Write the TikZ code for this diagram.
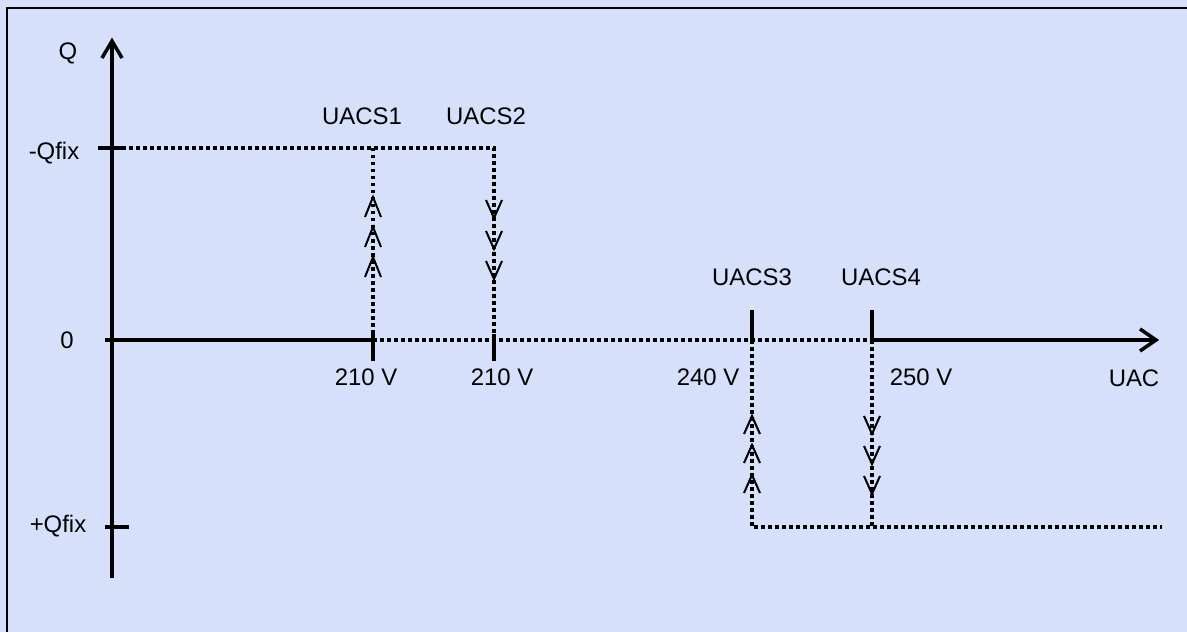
\documentclass[tikz,border=0pt]{standalone}
\usepackage{fontspec}
\setmainfont{Liberation Sans}
\definecolor{bgblue}{RGB}{214,224,250}
\begin{document}
\begin{tikzpicture}[x=1bp,y=-1bp,
  axis/.style={line width=3.5bp, line cap=butt},
  axtip/.style={line width=3.5bp, line join=miter},
  dotline/.style={line width=3.5bp, dash pattern=on 3.5bp off 3.5bp},
  lbl/.style={font=\fontsize{24}{28}\selectfont, inner sep=0pt, text height=17bp, text depth=0pt},
  chev/.style={line width=2bp, line join=miter},
]
\useasboundingbox (0,0) rectangle (1187,632);
\fill[bgblue] (0,0) rectangle (1187,632);
\draw[line width=2.5bp] (7,640) -- (7,8) -- (1195,8);

% key points
\coordinate (Ybot) at (112,578);
\coordinate (Ytop) at (112,42);
\coordinate (O) at (112,340);
\coordinate (Oleft) at (105,340);
\coordinate (Xend) at (1155,340);
\coordinate (S1) at (373,340);
\coordinate (S2) at (494,340);
\coordinate (S3) at (752,340);
\coordinate (S4) at (872,340);
\coordinate (S1t) at (373,148);
\coordinate (S2t) at (494,148);
\coordinate (Qm) at (122,148);
\coordinate (S3b) at (752,527);
\coordinate (S4b) at (872,527);
\coordinate (Qp) at (1162,527);

% axes
\draw[axis] (Ybot) -- (Ytop);
\draw[axtip] (102,58) -- (112,41) -- (122,58);
\draw[axis] (Oleft) -- (S1);
\draw[axis] (S4) -- (Xend);
\draw[axtip] (1140,329) -- (1156,340) -- (1140,351);
\draw[dotline] (S1) -- (S4);

% ticks
\draw[axis] (98,148) -- (122,148);
\draw[axis] (105,527) -- (129,527);
\draw[axis] (373,334) -- (373,361);
\draw[axis] (494,334) -- (494,361);
\draw[axis] (752,310) -- (752,340);
\draw[axis] (872,310) -- (872,340);

% dotted paths
\draw[dotline] (Qm) -- (S2t) -- (S2);
\draw[dotline] (S1t) -- (S1);
\draw[dotline] (S3) -- (S3b) -- (Qp);
\draw[dotline] (S4) -- (S4b);

% chevrons
\foreach \c in {207,237,267} {
  \draw[chev] (365,\c+10) -- (373,\c-10) -- (381,\c+10);
}
\foreach \c in {209,240,270} {
  \draw[chev] (486,\c-9) -- (494,\c+9) -- (502,\c-9);
}
\foreach \c in {425,454,484} {
  \draw[chev] (744,\c+9) -- (752,\c-9) -- (760,\c+9);
}
\foreach \c in {425,455,485} {
  \draw[chev] (864,\c-9) -- (872,\c+9) -- (880,\c-9);
}

% labels
\node[lbl] (lQ) at (68,51) {Q};
\node[lbl] (lQm) at (54,151) {-Qfix};
\node[lbl] (l0) at (67,340) {0};
\node[lbl] (lQp) at (58,524) {+Qfix};
\node[lbl] (u1) at (362,116) {UACS1};
\node[lbl] (u2) at (486,116) {UACS2};
\node[lbl] (u3) at (752,277) {UACS3};
\node[lbl] (u4) at (881,277) {UACS4};
\node[lbl] (v1) at (366,377) {210 V};
\node[lbl] (v2) at (502,377) {210 V};
\node[lbl] (v3) at (708,377) {240 V};
\node[lbl] (v4) at (921,377) {250 V};
\node[lbl] (lu) at (1134,378) {UAC};
\end{tikzpicture}
\end{document}
